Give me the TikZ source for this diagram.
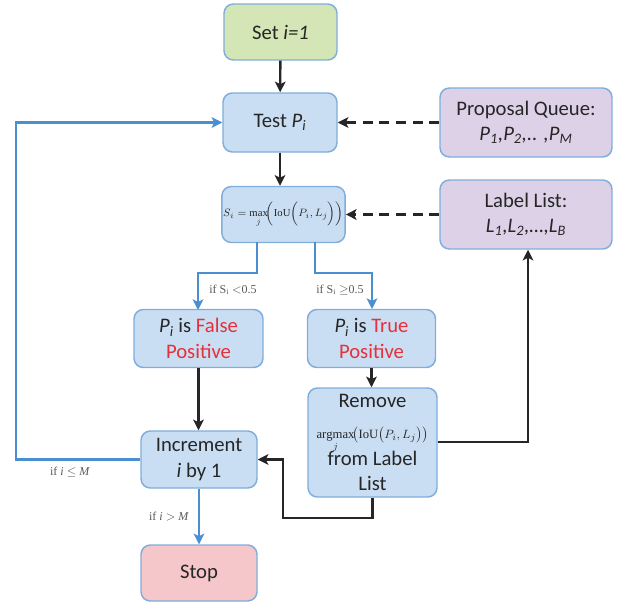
\documentclass[tikz,border=0pt]{standalone}
\usepackage{fontspec}
\setmainfont{Carlito}
\setmathrm{Liberation Serif}
\newfontfamily\serif{Liberation Serif}
\usetikzlibrary{arrows.meta}
\definecolor{bfill}{HTML}{C9DEF2}
\definecolor{bdraw}{HTML}{80AEDC}
\definecolor{gfill}{HTML}{D4E6B5}
\definecolor{pfill}{HTML}{DDD1E7}
\definecolor{rfill}{HTML}{F5C6CA}
\definecolor{barrow}{HTML}{4A8FD0}
\definecolor{redtxt}{HTML}{E8303A}
\definecolor{txt}{HTML}{262626}
\tikzset{
  box/.style={draw=bdraw, fill=bfill, line width=1.1pt, rounded corners=7pt,
    align=center, inner sep=1pt, text=txt, font=\fontsize{15.5}{19}\selectfont},
  tip/.style={-{Stealth[length=8pt,width=8pt,inset=2pt]}},
  blk/.style={draw=black!85, line width=1.8pt, tip},
  blu/.style={draw=barrow, line width=2pt, tip},
  dsh/.style={draw=black!85, line width=1.8pt, dash pattern=on 7.5pt off 5pt, tip},
  lbl/.style={font=\serif\fontsize{9}{10}\selectfont, text=black!65},
}
\begin{document}
\begin{tikzpicture}[x=0.75pt, y=-0.75pt]
\useasboundingbox (0,0) rectangle (620,603);
\node[box, fill=gfill, minimum width=113*0.75pt, minimum height=56*0.75pt] (set) at (280.5,32) {Set \textit{i=1}};
\node[box, minimum width=114*0.75pt, minimum height=59*0.75pt] (test) at (280,122.5) {Test \textit{P\textsubscript{i}}};
\node[box, minimum width=119*0.75pt, minimum height=56*0.75pt] (s) at (283.5,214.5) {\fontsize{8}{9}\selectfont$S_i=\max\limits_j\!\Bigl(\mathrm{IoU}\Bigl(P_i,L_j\Bigr)\Bigr)$};
\node[box, fill=pfill, minimum width=172*0.75pt, minimum height=69*0.75pt] (pq) at (526,122.5) {Proposal Queue:\\\textit{P\textsubscript{1},P\textsubscript{2},.. ,P\textsubscript{M}}};
\node[box, fill=pfill, minimum width=172*0.75pt, minimum height=69*0.75pt] (ll) at (526,214.5) {Label List:\\\textit{L\textsubscript{1},L\textsubscript{2},\dots,L\textsubscript{B}}};
\node[box, minimum width=129*0.75pt, minimum height=58*0.75pt] (fp) at (198.5,338.5) {\textit{P\textsubscript{i}} is \textcolor{redtxt}{False}\\\textcolor{redtxt}{Positive}};
\node[box, minimum width=128*0.75pt, minimum height=58*0.75pt] (tp) at (371.5,338.5) {\textit{P\textsubscript{i}} is \textcolor{redtxt}{True}\\\textcolor{redtxt}{Positive}};
\node[box, minimum width=129*0.75pt, minimum height=109*0.75pt] (rm) at (372.5,442.5) {Remove\\[4pt]{\fontsize{9.5}{10}\selectfont$\mathop{\mathrm{argmax}}\limits_j\!\bigl(\mathrm{IoU}\bigl(P_i,L_j\bigr)\bigr)$}\\[-2pt]from Label\\List};
\node[box, minimum width=116*0.75pt, minimum height=57*0.75pt] (inc) at (199,459.5) {Increment\\\textit{i} by 1};
\node[box, fill=rfill, minimum width=116*0.75pt, minimum height=56*0.75pt] (stop) at (199,573) {Stop};
% connectors
\draw[blk] (set) -- (test);
\draw[blk] (test.south) -- (test.south |- s.north);
\draw[dsh] (pq.west) -- (test.east);
\draw[dsh] (ll.west) -- (s.east);
\coordinate (sL) at (257,242);
\coordinate (sR) at (315,242);
\draw[blu] (sL) |- (198,273) -- (198,310);
\draw[blu] (sR) |- (372,273) -- (372,309);
\node[lbl] (l1) at (233,290) {if S\textsubscript{i} $<$0.5};
\node[lbl] (l2) at (340,290) {if S\textsubscript{i} $\geq$0.5};
\draw[blk] (fp.south) -- (fp.south |- inc.north);
\draw[blk] (tp.south) -- (tp.south |- rm.north);
\draw[blk] (rm.east |- 0,442) -| (ll.south -| 528,0);
\draw[blk] (rm.south) |- (283,518) |- (inc.east);
\draw[blu] (inc.west) -| (16,122.5) -- (test.west);
\node[lbl] (l3) at (70,472) {if \textit{i} $\leq$ \textit{M}};
\draw[blu] (inc.south) -- (stop.north);
\node[lbl] (l4) at (169,517) {if \textit{i} $>$ \textit{M}};
\end{tikzpicture}
\end{document}
